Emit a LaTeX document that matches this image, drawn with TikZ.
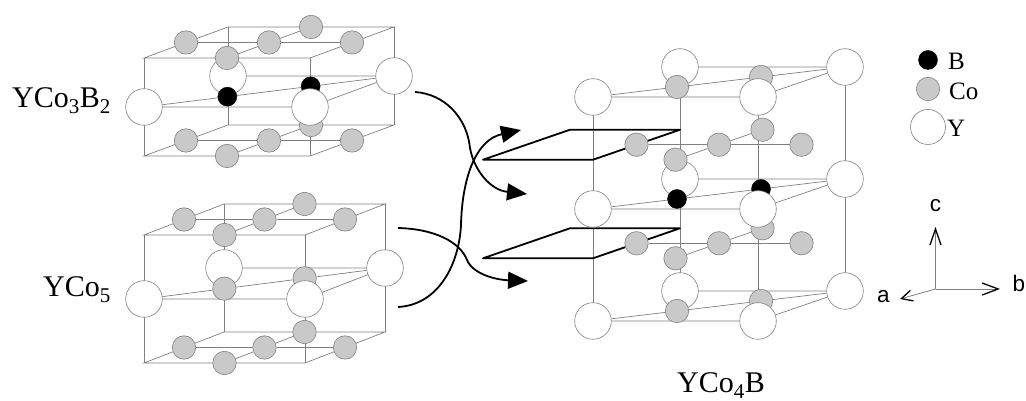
\documentclass[tikz,border=0pt]{standalone}
\usepackage{fontspec}
\setmainfont{Liberation Serif}
\setsansfont{Liberation Sans}
\usepackage{tikz}
\usetikzlibrary{arrows.meta, backgrounds, calc}
\definecolor{linegray}{gray}{0.5}
\definecolor{cogray}{gray}{0.79}

\begin{document}
\begin{tikzpicture}[x=1pt,y=1pt,
  bondline/.style={draw=linegray, line width=0.7pt},
  yat/.style={circle, draw=linegray, fill=white, line width=0.6pt, inner sep=0pt, minimum size=36.6pt},
  coat/.style={circle, draw=linegray, fill=cogray, line width=0.6pt, inner sep=0pt, minimum size=23.4pt},
  bat/.style={circle, draw=black, fill=black, inner sep=0pt, minimum size=19pt},
  planeline/.style={draw=black, line width=1.8pt, line join=round},
  movearrow/.style={line width=1.8pt, -{Triangle[length=20pt,width=17pt]}},
  axisline/.style={draw=linegray, line width=0.8pt}]
\tikzset{formula/.style={font=\fontsize{30}{36}\selectfont, inner sep=0pt, anchor=base west},
  legtext/.style={font=\fontsize{25}{30}\selectfont, inner sep=0pt, anchor=base west},
  axtext/.style={font=\sffamily\fontsize{22.5}{27}\selectfont, inner sep=0pt}}
\useasboundingbox (0,0) rectangle (1026,401);

% YCo3B2 cell
\begin{scope}[shift={(144,245)}, x={(166pt,0pt)}, y={(84pt,31pt)}, z={(0pt,98pt)}]
\foreach \p in {0,1} \foreach \q in {0,1} \foreach \h in {0,1}
  \coordinate (a\p\q\h) at (\p,\q,\h);
% atoms, back ones first
\node (aYbl) at (0,1,0.5) [yat] {};
\node (aYbr) at (1,1,0.5) [yat] {};
\foreach \h in {0,1} \node (aCb\h) at (0.5,1,\h) [coat] {};
\node (aX2) at (2/3,2/3,0.5) [bat] {};
\foreach \h in {0,1} {
  \node (aCl\h) at (0,0.5,\h) [coat] {};
  \node (aCm\h) at (0.5,0.5,\h) [coat] {};
  \node (aCr\h) at (1,0.5,\h) [coat] {};
}
\node (aX1) at (1/3,1/3,0.5) [bat] {};
\foreach \h in {0,1} \node (aCf\h) at (0.5,0,\h) [coat] {};
\node (aYfl) at (0,0,0.5) [yat] {};
\node (aYfr) at (1,0,0.5) [yat] {};
% edges and bonds
\begin{scope}[on background layer]
\foreach \p in {0,1} \foreach \q in {0,1} \draw [bondline] (a\p\q0) -- (a\p\q1);
\foreach \h in {0,1} {
  \draw [bondline] (a00\h) -- (a10\h) -- (a11\h) -- (a01\h) -- cycle;
  \draw [bondline] (aCl\h) -- (aCm\h) -- (aCr\h);
  \draw [bondline] (aCf\h) -- (aCm\h) -- (aCb\h);
}
\draw [bondline] (aYfl) -- (aYfr) -- (aYbr) -- (aYbl) -- cycle;
\draw [bondline] (aYfl) -- (aX1) -- (aX2) -- (aYbr);
\end{scope}
\end{scope}

% YCo5 cell
\begin{scope}[shift={(144,38)}, x={(161pt,0pt)}, y={(80pt,31pt)}, z={(0pt,128pt)}]
\foreach \p in {0,1} \foreach \q in {0,1} \foreach \h in {0,1}
  \coordinate (b\p\q\h) at (\p,\q,\h);
% atoms, back ones first
\node (bYbl) at (0,1,0.5) [yat] {};
\node (bYbr) at (1,1,0.5) [yat] {};
\foreach \h in {0,1} \node (bCb\h) at (0.5,1,\h) [coat] {};
\node (bX2) at (2/3,2/3,0.5) [coat] {};
\foreach \h in {0,1} {
  \node (bCl\h) at (0,0.5,\h) [coat] {};
  \node (bCm\h) at (0.5,0.5,\h) [coat] {};
  \node (bCr\h) at (1,0.5,\h) [coat] {};
}
\node (bX1) at (1/3,1/3,0.5) [coat] {};
\foreach \h in {0,1} \node (bCf\h) at (0.5,0,\h) [coat] {};
\node (bYfl) at (0,0,0.5) [yat] {};
\node (bYfr) at (1,0,0.5) [yat] {};
% edges and bonds
\begin{scope}[on background layer]
\foreach \p in {0,1} \foreach \q in {0,1} \draw [bondline] (b\p\q0) -- (b\p\q1);
\foreach \h in {0,1} {
  \draw [bondline] (b00\h) -- (b10\h) -- (b11\h) -- (b01\h) -- cycle;
  \draw [bondline] (bCl\h) -- (bCm\h) -- (bCr\h);
  \draw [bondline] (bCf\h) -- (bCm\h) -- (bCb\h);
}
\draw [bondline] (bYfl) -- (bYfr) -- (bYbr) -- (bYbl) -- cycle;
\draw [bondline] (bYfl) -- (bX1) -- (bX2) -- (bYbr);
\end{scope}
\end{scope}

% YCo4B cell
\begin{scope}[shift={(593,80)}, x={(165pt,0pt)}, y={(87pt,30pt)}, z={(0pt,224pt)}]
\foreach \p in {0,1} \foreach \q in {0,1} \foreach \h in {0,1}
  \coordinate (c\p\q\h) at (\p,\q,\h);
% atoms, back ones first
\foreach \h/\n in {0/0,0.5/1,1/2} {
  \node (cYbl\n) at (0,1,\h) [yat] {};
  \node (cYbr\n) at (1,1,\h) [yat] {};
}
\foreach \h/\n in {0.28/0,0.72/1} \node (cCb\n) at (0.5,1,\h) [coat] {};
\node (cX20) at (2/3,2/3,0) [coat] {};
\node (cX21) at (2/3,2/3,0.5) [bat] {};
\node (cX22) at (2/3,2/3,1) [coat] {};
\foreach \h/\n in {0.28/0,0.72/1} {
  \node (cCl\n) at (0,0.5,\h) [coat] {};
  \node (cCm\n) at (0.5,0.5,\h) [coat] {};
  \node (cCr\n) at (1,0.5,\h) [coat] {};
}
\node (cX10) at (1/3,1/3,0) [coat] {};
\node (cX11) at (1/3,1/3,0.5) [bat] {};
\node (cX12) at (1/3,1/3,1) [coat] {};
\foreach \h/\n in {0.28/0,0.72/1} \node (cCf\n) at (0.5,0,\h) [coat] {};
\foreach \h/\n in {0/0,0.5/1,1/2} {
  \node (cYfl\n) at (0,0,\h) [yat] {};
  \node (cYfr\n) at (1,0,\h) [yat] {};
}
% edges, bonds and the two planes
\begin{scope}[on background layer]
\foreach \p in {0,1} \foreach \q in {0,1} \draw [bondline] (c\p\q0) -- (c\p\q1);
\foreach \n in {0,1,2} {
  \draw [bondline] (cYfl\n) -- (cYfr\n) -- (cYbr\n) -- (cYbl\n) -- cycle;
  \draw [bondline] (cYfl\n) -- (cX1\n) -- (cX2\n) -- (cYbr\n);
}
\foreach \n in {0,1} {
  \draw [bondline] (cCl\n) -- (cCm\n) -- (cCr\n);
  \draw [bondline] (cCf\n) -- (cCm\n) -- (cCb\n);
}
\foreach \h in {0.28,0.72}
  \draw [planeline] (-2/3,0,\h) -- (0,0,\h) -- (0,1,\h) -- (-2/3,1,\h) -- cycle;
\end{scope}
\end{scope}

% Names
\node (lblA) at (12,293) [formula] {YCo\textsubscript{3}B\textsubscript{2}};
\node (lblB) at (43,104) [formula] {YCo\textsubscript{5}};
\node (lblC) at (677,8) [formula] {YCo\textsubscript{4}B};

% The arrows
\coordinate (outA) at (415,309);
\coordinate (midA) at (470,253);
\coordinate (inA) at (527,207);
\draw [movearrow] (outA) .. controls (445,307) and (467,283) .. (midA) .. controls (474,231) and (490,211) .. (inA);
\coordinate (outB) at (398,94);
\coordinate (midB) at (461,176);
\coordinate (inB) at (521,271);
\draw [movearrow] (outB) .. controls (438,96) and (459,136) .. (midB) .. controls (462,221) and (475,261) .. (inB);
\coordinate (outC) at (398,173);
\coordinate (midC) at (467,141);
\coordinate (inC) at (528,120);
\draw [movearrow] (outC) .. controls (435,172) and (460,159) .. (midC) .. controls (474,125) and (500,121) .. (inC);

% Legend
\node (legB) at (928,341) [bat] {};
\node (legCo) at (928,312) [coat] {};
\node (legY) at (928,274) [yat, minimum size=35pt] {};
\node (legBt) at (948,331) [legtext] {B};
\node (legCot) at (949,301) [legtext] {Co};
\node (legYt) at (947,264) [legtext] {Y};

% The axes
\coordinate (org) at (935.5,112);
\coordinate (ctip) at (935.5,174);
\coordinate (btip) at (1000,112);
\coordinate (atip) at (900,102);
\draw [axisline, -{Straight Barb[length=16pt,width=11pt,line width=1.3pt,color=black]}] (org) -- (ctip);
\draw [axisline, -{Straight Barb[length=16pt,width=12pt,line width=1.3pt,color=black]}] (org) -- (btip);
\draw [axisline, -{Straight Barb[length=11pt,width=11pt,line width=1.3pt,color=black]}] (org) -- (atip);
\node (clab) at (935.5,189.5) [axtext, anchor=base] {c};
\node (blab) at (1012.5,109) [axtext, anchor=base west] {b};
\node (alab) at (877,98) [axtext, anchor=base west] {a};
\end{tikzpicture}
\end{document}
